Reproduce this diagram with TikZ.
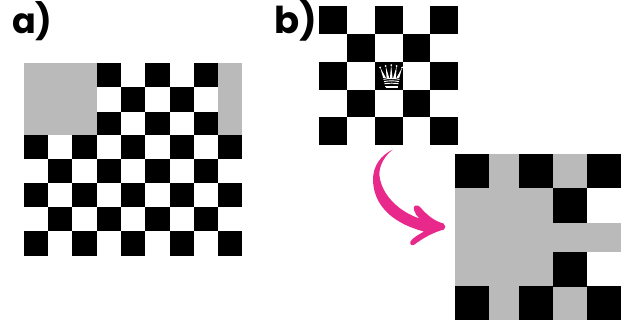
\documentclass[tikz,border=0pt]{standalone}
\usepackage{fontspec}
\setmainfont{Poppins}
\definecolor{boardgray}{HTML}{BABABA}
\definecolor{arrowpink}{HTML}{E8288A}
\tikzset{
  sq/.style={fill=black,draw=none},
  grayarea/.style={fill=boardgray,draw=none},
  panellabel/.style={inner sep=0pt,anchor=base west},
  crown/.style={fill=white,draw=none},
  band/.style={draw=white,line width=.95pt}
}
\begin{document}
\begin{tikzpicture}[x=1pt,y=-1pt]
\useasboundingbox (0,0) rectangle (632,329);
\fill[white] (0,0) rectangle (632,329);
\node[panellabel,font=\fontsize{35}{35}\selectfont\bfseries] (la) at (12,34) {a)};
\node[panellabel,font=\fontsize{37}{37}\selectfont\bfseries] (lb) at (274,33.5) {b)};
% board a
\fill[grayarea] (24,63) rectangle (96.7,135.3);
\fill[grayarea] (218,63) rectangle (242,135.3);
\def\ax{{24,48.3,72.3,96.7,121,145.3,169.7,193.7,218,242}}
\def\ay{{63,87.3,111.7,135.3,159.3,183.3,207.3,231.3,255.7}}
\foreach \c/\r in {3/0,5/0,7/0,4/1,6/1,3/2,5/2,7/2,
  0/3,2/3,4/3,6/3,8/3,1/4,3/4,5/4,7/4,
  0/5,2/5,4/5,6/5,8/5,1/6,3/6,5/6,7/6,
  0/7,2/7,4/7,6/7,8/7}{
  \pgfmathsetmacro{\xa}{\ax[\c]}\pgfmathsetmacro{\xb}{\ax[\c+1]}
  \pgfmathsetmacro{\ya}{\ay[\r]}\pgfmathsetmacro{\yb}{\ay[\r+1]}
  \fill[sq] (\xa,\ya) rectangle (\xb,\yb);
}
% board b
\def\bx{{319,347,375,403,430,458}}
\def\by{{6,34,62,90,117,145}}
\foreach \c/\r in {0/0,2/0,4/0,1/1,3/1,0/2,2/2,4/2,1/3,3/3,0/4,2/4,4/4}{
  \pgfmathsetmacro{\xa}{\bx[\c]}\pgfmathsetmacro{\xb}{\bx[\c+1]}
  \pgfmathsetmacro{\ya}{\by[\r]}\pgfmathsetmacro{\yb}{\by[\r+1]}
  \fill[sq] (\xa,\ya) rectangle (\xb,\yb);
}
% queen
\foreach \px/\py/\bl/\br in {380.2/67.5/383.2/386,385.7/66/386.6/389.2,391.2/65.2/389.9/392.5,396.7/66/393.2/395.8,402.2/67.5/396.4/399.2}{
  \fill[crown] (\px,\py) circle (1);
  \fill[crown] (\px,\py) -- (\br,78) -- (\bl,78) -- cycle;
}
\draw[band] (383.5,79.4) .. controls (388,78.2) and (395,78.2) .. (399.5,79.4);
\draw[band] (384,81.6) .. controls (388,80.6) and (395,80.6) .. (399,81.6);
\draw[band] (384.5,83.8) .. controls (388,83) and (395,83) .. (398.5,83.8);
\draw[band] (385,86) -- (398,86);
\draw[band] (385.5,87.9) -- (397.5,87.9);
% board c
\fill[grayarea] (455,154) rectangle (621,320);
\fill[white] (587.3,188.3) rectangle (621,222.7);
\fill[white] (587.3,252) rectangle (621,286);
\foreach \xa/\ya/\xb/\yb in {
  455/154/489/188.3, 518.7/154/553.3/188.3, 587.3/154/621/188.3,
  553.3/188.3/587.3/222.7, 553.3/252/587.3/286.5,
  455/286/489/320, 518.7/286/553.3/320, 587.3/286/621/320}{
  \fill[sq] (\xa,\ya) rectangle (\xb,\yb);
}
% curved arrow
\fill[arrowpink] (392.8,149.6)
  .. controls (381,155) and (372.8,166) .. (373,180)
  .. controls (373.5,202) and (388,222) .. (424,231.5)
  .. controls (418,235) and (412.5,238) .. (410.5,241.5)
  .. controls (409.5,245) and (412,246) .. (414.5,244.5)
  .. controls (423,238) and (434,232) .. (444,229.5)
  .. controls (445.8,228) and (445.8,225) .. (443.5,223.5)
  .. controls (434,221) and (427,215) .. (420,207)
  .. controls (417.5,204) and (412.5,205) .. (414,210)
  .. controls (415,213.5) and (417,216.5) .. (419.5,218.5)
  .. controls (400,212) and (382,196) .. (379.5,176)
  .. controls (378.5,167) and (384,156) .. (392.8,149.6)
  -- cycle;
\end{tikzpicture}
\end{document}
